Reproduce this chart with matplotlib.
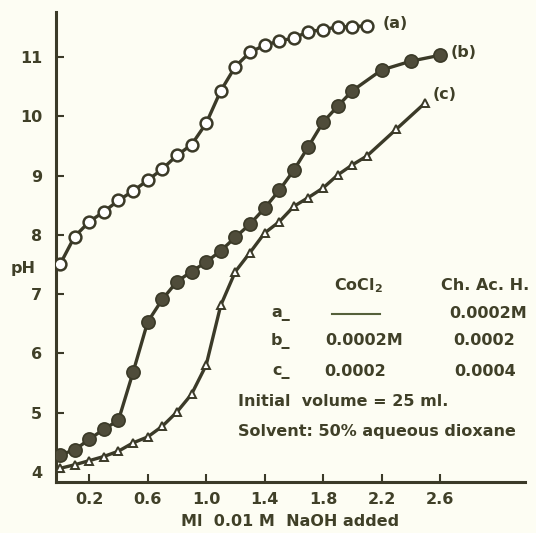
import numpy as np
import matplotlib
matplotlib.use('Agg')
import matplotlib.pyplot as plt

# NaOH volume (ml) and pH readings for the three titrations
vol_a = [0.0, 0.1, 0.2, 0.3, 0.4, 0.5, 0.6, 0.7, 0.8, 0.9, 1.0,
         1.1, 1.2, 1.3, 1.4, 1.5, 1.6, 1.7, 1.8, 1.9, 2.0, 2.1]
ph_a = [7.50, 7.97, 8.22, 8.39, 8.58, 8.74, 8.92, 9.11, 9.34, 9.52, 9.88,
        10.43, 10.84, 11.08, 11.20, 11.27, 11.32, 11.43, 11.46, 11.51, 11.51, 11.53]

vol_b = [0.0, 0.1, 0.2, 0.3, 0.4, 0.5, 0.6, 0.7, 0.8, 0.9, 1.0, 1.1,
         1.2, 1.3, 1.4, 1.5, 1.6, 1.7, 1.8, 1.9, 2.0, 2.2, 2.4, 2.6]
ph_b = [4.29, 4.37, 4.55, 4.72, 4.87, 5.68, 6.53, 6.91, 7.21, 7.38, 7.54, 7.73,
        7.96, 8.18, 8.45, 8.75, 9.09, 9.49, 9.90, 10.17, 10.43, 10.78, 10.93, 11.03]

vol_c = [0.0, 0.1, 0.2, 0.3, 0.4, 0.5, 0.6, 0.7, 0.8, 0.9, 1.0, 1.1,
         1.2, 1.3, 1.4, 1.5, 1.6, 1.7, 1.8, 1.9, 2.0, 2.1, 2.3, 2.5]
ph_c = [4.06, 4.12, 4.19, 4.26, 4.35, 4.49, 4.59, 4.77, 5.01, 5.31, 5.80, 6.81,
        7.38, 7.70, 8.03, 8.22, 8.48, 8.63, 8.79, 9.01, 9.18, 9.33, 9.78, 10.23]

xticks = [0.2, 0.6, 1.0, 1.4, 1.8, 2.2, 2.6]
yticks = [4, 5, 6, 7, 8, 9, 10, 11]

ink = '#3b3a28'
paper = '#fdfdf3'
txt = '#404028'

plt.rcParams['font.family'] = ['DejaVu Sans']
plt.rcParams['font.weight'] = 'bold'
plt.rcParams['axes.labelweight'] = 'bold'

fig = plt.figure(figsize=(5.36, 5.33), dpi=100, facecolor=paper)
ax = fig.add_axes([0.1045, 0.0957, 0.8745, 0.8818])
ax.set_facecolor(paper)

ax.plot(vol_a, ph_a, '-', color=ink, lw=2.4, marker='o', ms=8.5,
        mfc='white', mec=ink, mew=1.8, zorder=3)
ax.plot(vol_b, ph_b, '-', color=ink, lw=2.4, marker='o', ms=9.5,
        mfc='#4f4c3a', mec=ink, mew=1.2, zorder=3)
ax.plot(vol_c, ph_c, '-', color=ink, lw=2.4, marker='^', ms=6,
        mfc='white', mec=ink, mew=1.4, zorder=3)

ax.set_xlim(-0.027, 3.18)
ax.set_ylim(3.83, 11.76)
ax.set_xticks(xticks)
ax.set_xticklabels([f'{v:.1f}' for v in xticks])
ax.set_yticks(yticks)
for s in ['top', 'right']:
    ax.spines[s].set_visible(False)
for s in ['left', 'bottom']:
    ax.spines[s].set_color(ink)
    ax.spines[s].set_linewidth(2.2)
ax.tick_params(direction='in', length=6, width=1.5, color=ink,
               labelsize=11.5, labelcolor=txt, pad=7)
ax.tick_params(axis='y', pad=10)

ax.set_xlabel('Ml  0.01 M  NaOH added', fontsize=11.5, color=txt, fontweight='bold')
ax.xaxis.set_label_coords(0.5, -0.068)
ax.set_ylabel('pH', fontsize=11.5, color=txt, rotation=0, va='center', fontweight='bold')
ax.yaxis.set_label_coords(-0.07, 0.455)

# curve labels
ax.text(2.21, 11.56, '(a)', fontsize=11.5, color=txt, va='center')
ax.text(2.67, 11.08, '(b)', fontsize=11.5, color=txt, va='center')
ax.text(2.55, 10.36, '(c)', fontsize=11.5, color=txt, va='center')

# composition table
kw = dict(fontsize=11.5, color=txt, ha='center', va='center')
ax.text(2.04, 7.15, 'CoCl$_2$', **kw)
ax.text(2.91, 7.15, 'Ch. Ac. H.', **kw)
ax.text(1.51, 6.68, 'a_', **kw)
ax.plot([1.86, 2.19], [6.66, 6.66], color='#55603a', lw=1.5)
ax.text(2.93, 6.68, '0.0002M', **kw)
ax.text(1.51, 6.21, 'b_', **kw)
ax.text(2.08, 6.21, '0.0002M', **kw)
ax.text(2.90, 6.21, '0.0002', **kw)
ax.text(1.51, 5.70, 'c_', **kw)
ax.text(2.02, 5.70, '0.0002', **kw)
ax.text(2.91, 5.70, '0.0004', **kw)
ax.text(1.22, 5.18, 'Initial  volume = 25 ml.', fontsize=11.5, color=txt, va='center')
ax.text(1.22, 4.68, 'Solvent: 50% aqueous dioxane', fontsize=11.5, color=txt, va='center')

fig.savefig('out.png', dpi=100, facecolor=paper)
